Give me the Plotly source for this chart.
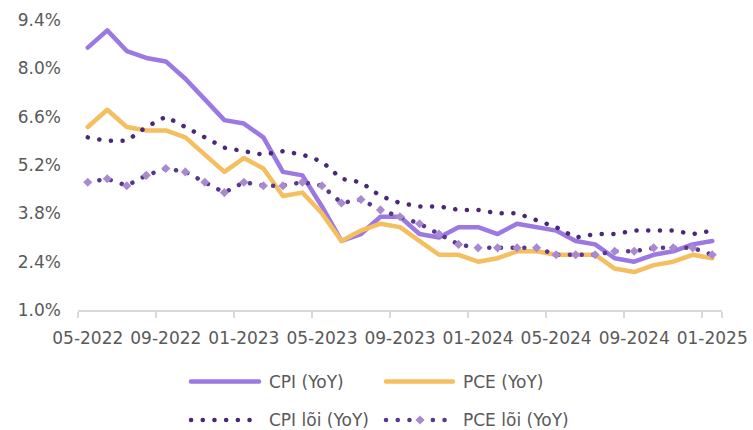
import plotly.graph_objects as go

months = ["05-2022", "06-2022", "07-2022", "08-2022", "09-2022", "10-2022", "11-2022", "12-2022",
          "01-2023", "02-2023", "03-2023", "04-2023", "05-2023", "06-2023", "07-2023", "08-2023",
          "09-2023", "10-2023", "11-2023", "12-2023", "01-2024", "02-2024", "03-2024", "04-2024",
          "05-2024", "06-2024", "07-2024", "08-2024", "09-2024", "10-2024", "11-2024", "12-2024",
          "01-2025"]

cpi = [8.6, 9.1, 8.5, 8.3, 8.2, 7.7, 7.1, 6.5, 6.4, 6.0, 5.0, 4.9, 4.0, 3.0, 3.2, 3.7, 3.7,
       3.2, 3.1, 3.4, 3.4, 3.2, 3.5, 3.4, 3.3, 3.0, 2.9, 2.5, 2.4, 2.6, 2.7, 2.9, 3.0]
pce = [6.3, 6.8, 6.3, 6.2, 6.2, 6.0, 5.5, 5.0, 5.4, 5.1, 4.3, 4.4, 3.8, 3.0, 3.3, 3.5, 3.4,
       3.0, 2.6, 2.6, 2.4, 2.5, 2.7, 2.7, 2.6, 2.6, 2.6, 2.2, 2.1, 2.3, 2.4, 2.6, 2.5]
core_cpi = [6.0, 5.9, 5.9, 6.3, 6.6, 6.3, 6.0, 5.7, 5.6, 5.5, 5.6, 5.5, 5.3, 4.8, 4.7, 4.3, 4.1,
            4.0, 4.0, 3.9, 3.9, 3.8, 3.8, 3.6, 3.4, 3.1, 3.2, 3.2, 3.3, 3.3, 3.3, 3.2, 3.3]
core_pce = [4.7, 4.8, 4.6, 4.9, 5.1, 5.0, 4.7, 4.4, 4.7, 4.6, 4.6, 4.7, 4.6, 4.1, 4.2, 3.9, 3.7,
            3.5, 3.2, 2.9, 2.8, 2.8, 2.8, 2.8, 2.6, 2.6, 2.6, 2.7, 2.7, 2.8, 2.8, 2.8, 2.6]

tick_labels = ["05-2022", "09-2022", "01-2023", "05-2023", "09-2023", "01-2024",
               "05-2024", "09-2024", "01-2025"]
y_ticks = [1.0, 2.4, 3.8, 5.2, 6.6, 8.0, 9.4]
y_tick_text = ["1.0%", "2.4%", "3.8%", "5.2%", "6.6%", "8.0%", "9.4%"]

names = ["CPI (YoY)", "PCE (YoY)", "CPI lõi (YoY)", "PCE lõi (YoY)"]

C_CPI = "#9B78E2"
C_PCE = "#F5BE5E"
C_CCPI = "#4A2875"
C_CPCE_DOT = "#563890"
C_CPCE_MK = "#A98AD0"
TXT = "#595959"
FONT = "DejaVu Sans"
DOT = "0.1px,11.6px"

W, H = 753, 430
ML, MR, MT, MB = 78, 31, 20, 120
PW, PH = W - ML - MR, H - MT - MB


def px(x):
    return (x - ML) / PW


def py(y):
    return (H - MB - y) / PH


fig = go.Figure()
fig.add_trace(go.Scatter(x=months, y=cpi, mode="lines", name=names[0],
                         line=dict(color=C_CPI, width=4.5)))
fig.add_trace(go.Scatter(x=months, y=pce, mode="lines", name=names[1],
                         line=dict(color=C_PCE, width=4.5)))
fig.add_trace(go.Scatter(x=months, y=core_cpi, mode="lines", name=names[2],
                         line=dict(color=C_CCPI, width=4.5, dash=DOT)))
fig.add_trace(go.Scatter(x=months, y=core_pce, mode="lines+markers", name=names[3],
                         line=dict(color=C_CPCE_DOT, width=4.5, dash=DOT),
                         marker=dict(symbol="diamond", size=7, color=C_CPCE_MK,
                                     line=dict(width=0))))

# manual legend
shapes = []
annotations = []
rows = [381.5, 420]
cols = [(191, 259, 267), (386, 453, 461)]
specs = [(0, 0, C_CPI, None), (0, 1, C_PCE, None), (1, 0, C_CCPI, DOT), (1, 1, C_CPCE_DOT, DOT)]
for i, (r, c, col, dash) in enumerate(specs):
    y = rows[r]
    x0, x1, xt = cols[c]
    ln = dict(color=col, width=4.5)
    if dash:
        ln["dash"] = dash
    shapes.append(dict(type="line", xref="paper", yref="paper", x0=px(x0), x1=px(x1),
                       y0=py(y), y1=py(y), line=ln))
    annotations.append(dict(text=names[i], xref="paper", yref="paper", x=px(xt), y=py(y),
                            xanchor="left", yanchor="middle", showarrow=False,
                            font=dict(family=FONT, size=17, color=TXT)))
# diamond in PCE core legend sample
cx, cy, d = (cols[1][0] + cols[1][1]) / 2 + 0.5, rows[1], 4.6
path = "M {} {} L {} {} L {} {} L {} {} Z".format(
    px(cx - d), py(cy), px(cx), py(cy - d), px(cx + d), py(cy), px(cx), py(cy + d))
shapes.append(dict(type="path", xref="paper", yref="paper", path=path,
                   fillcolor=C_CPCE_MK, line=dict(width=0)))

fig.update_layout(
    width=W, height=H,
    margin=dict(l=ML, r=MR, t=MT, b=MB, pad=0),
    paper_bgcolor="white", plot_bgcolor="white",
    showlegend=False,
    font=dict(family=FONT, size=17, color=TXT),
    shapes=shapes, annotations=annotations,
    xaxis=dict(type="category", categoryorder="array", categoryarray=months,
               range=[-0.5, len(months) - 0.5],
               tickmode="array", tickvals=tick_labels, ticktext=tick_labels, tickangle=0,
               tickson="boundaries", ticks="outside", ticklen=6, tickwidth=1.5,
               tickcolor="#D9D9D9", showline=True, linecolor="#D9D9D9", linewidth=1.5,
               showgrid=False, zeroline=False, automargin=False, ticklabelstandoff=12,
               tickfont=dict(family=FONT, size=17, color=TXT)),
    yaxis=dict(range=[1.0, 9.4], tickmode="array", tickvals=y_ticks, ticktext=y_tick_text,
               showgrid=False, zeroline=False, automargin=False,
               showline=False, ticks="", ticklabelstandoff=16,
               tickfont=dict(family=FONT, size=17, color=TXT)),
)

css = ("var s=document.createElement('style');"
       "s.textContent='html,body{margin:0;padding:0;} .js-line, .shapelayer path{stroke-linecap:round;stroke-linejoin:round;}';"
       "document.head.appendChild(s);")
fig.write_html("out.html", post_script=css, config={"displayModeBar": False})
